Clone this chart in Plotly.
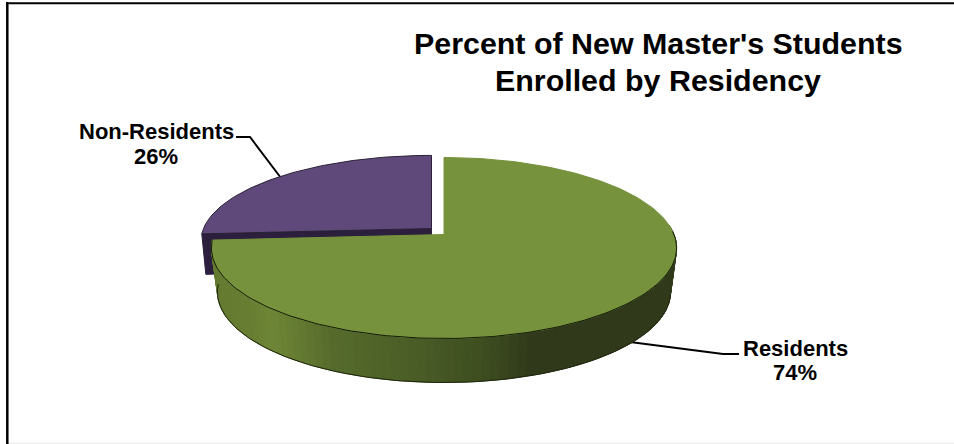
import numpy as np
import plotly.graph_objects as go

# Data
categories = ["Residents", "Non-Residents"]
percent_values = [74, 26]
title_lines = ["Percent of New Master's Students", "Enrolled by Residency"]

P = 0.149  # perspective


def rim(theta_deg, ax, ay, R, k):
    t = np.radians(theta_deg)
    w = 1 + P * np.cos(t)
    return ax + R * np.sin(t) / w, ay - k * np.cos(t) / w


split = 360 * percent_values[0] / sum(percent_values)
GREEN = dict(ax=444.0, ay=234.5, R=230.0, k=88.5)
GREEN_LOW = dict(ax=444.0, ay=278.5, R=224.0, k=88.5)
PURPLE = dict(ax=431.5, ay=228.5, R=228.0, k=84.0)
PURPLE_LOW = dict(ax=431.5, ay=269.0, R=224.0, k=84.0)

fig = go.Figure()


def poly(xs, ys, fill, line=None, width=1):
    fig.add_trace(go.Scatter(x=list(xs), y=list(ys), mode="lines", fill="toself", fillcolor=fill,
                             line=dict(color=line or fill, width=width), hoverinfo="skip", showlegend=False))


def line(xs, ys, color="#000000", width=2):
    fig.add_trace(go.Scatter(x=list(xs), y=list(ys), mode="lines", line=dict(color=color, width=width),
                             hoverinfo="skip", showlegend=False))


# Leader lines
line([236, 250, 281], [137, 137, 178])
line([630, 723, 739], [342, 354, 354])

# Purple slice: wall, then top
tx, ty = rim(split, **PURPLE)
bx, by = rim(split, **PURPLE_LOW)
poly([PURPLE["ax"], tx, bx, PURPLE_LOW["ax"], PURPLE["ax"]],
     [PURPLE["ay"], ty, by, PURPLE_LOW["ay"], PURPLE["ay"]], "#2b1f3d")
th = np.linspace(split, 360, 80)
px, py = rim(th, **PURPLE)
poly(np.r_[PURPLE["ax"], px, PURPLE["ax"]], np.r_[PURPLE["ay"], py, PURPLE["ay"]], "#5f497a", "#2b2235", 1)

# Green side strips with shading
stops_x = [212, 250, 273, 333, 417, 483, 533, 680]
stops_rgb = np.array([[100, 122, 48], [104, 126, 50], [110, 134, 54], [86, 107, 44],
                      [74, 93, 39], [62, 78, 32], [48, 57, 26], [48, 57, 26]])
angles = np.arange(84, split + 2, 2.0)
angles[-1] = min(angles[-1], split)
for a0, a1 in zip(angles[:-1], angles[1:]):
    xt, yt = rim(np.array([a0, a1]), **GREEN)
    xb, yb = rim(np.array([a1, a0]), **GREEN_LOW)
    mid = float(np.mean(np.r_[xt, xb]))
    c = [int(np.interp(mid, stops_x, stops_rgb[:, i])) for i in range(3)]
    col = f"rgb({c[0]},{c[1]},{c[2]})"
    poly(np.r_[xt, xb, xt[0]], np.r_[yt, yb, yt[0]], col)

# Dark underline of the side
th = np.linspace(100, split, 120)
x0, y0 = rim(th, **GREEN_LOW)
line(x0, y0, "#20260f", 1)

# Green top
th = np.linspace(0, split, 240)
gx, gy = rim(th, **GREEN)
poly(np.r_[GREEN["ax"], gx, GREEN["ax"]], np.r_[GREEN["ay"], gy, GREEN["ay"]], "#76923c", "#76923c", 1)
th = np.linspace(88, split, 160)
ex, ey = rim(th, **GREEN)
line(ex, ey, "#141a08", 1)

# Frame
line([8, 954], [443, 443], "#e8e8e8", 1)
line([7.3, 7.3], [2, 444], "#000000", 2.5)
line([6, 954], [3.2, 3.2], "#000000", 2)

ann = [
    dict(text=title_lines[0], x=658, y=42.5, size=30.4),
    dict(text=title_lines[1], x=658, y=79.5, size=30.4),
    dict(text=categories[1], x=156, y=131, size=22),
    dict(text=f"{percent_values[1]}%", x=156, y=156, size=22),
    dict(text=categories[0], x=795, y=348, size=22),
    dict(text=f"{percent_values[0]}%", x=795, y=372, size=22),
]
for a in ann:
    fig.add_annotation(x=a["x"], y=a["y"], text=f"<b>{a['text']}</b>", showarrow=False, xref="x", yref="y",
                       xanchor="center", yanchor="middle",
                       font=dict(family="Liberation Sans", size=a["size"], color="#000000"))

fig.update_xaxes(range=[0, 954], visible=False, fixedrange=True)
fig.update_yaxes(range=[444, 0], visible=False, fixedrange=True)
fig.update_layout(width=954, height=444, margin=dict(l=0, r=0, t=0, b=0), paper_bgcolor="#ffffff",
                  plot_bgcolor="#ffffff", showlegend=False)
fig.write_html("out.html", config={"displayModeBar": False},
               post_script="document.body.style.margin='0';document.documentElement.style.overflow='hidden';")
